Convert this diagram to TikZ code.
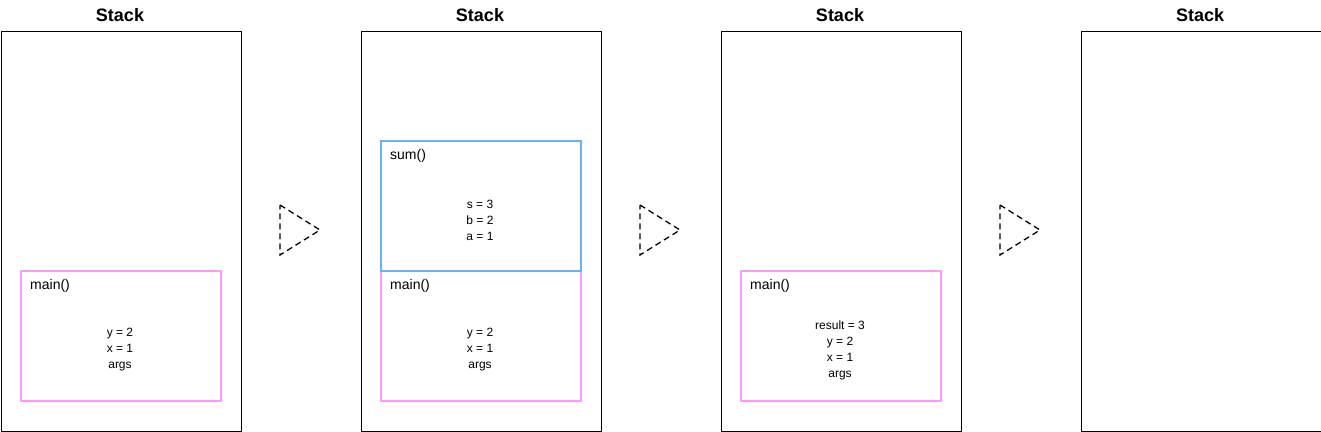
\documentclass[tikz,border=0pt]{standalone}
\usepackage{fontspec}
\setmainfont{Liberation Sans}
\definecolor{pinkframe}{HTML}{FF99FF}
\definecolor{blueframe}{HTML}{66B2FF}
\begin{document}
\begin{tikzpicture}[x=1pt,y=-1pt,
  panel/.style={draw=black,line width=0.8pt,minimum width=240pt,minimum height=400pt,inner sep=0pt,anchor=north west},
  title/.style={font=\fontsize{18}{20}\selectfont\bfseries,anchor=center,inner sep=0pt},
  frame/.style={line width=1.5pt,minimum width=200pt,minimum height=130pt,inner sep=0pt,anchor=north west},
  fname/.style={font=\fontsize{14}{16}\selectfont,anchor=west,inner sep=0pt},
  vars/.style={font=\fontsize{12}{16}\selectfont,align=center,inner sep=0pt,anchor=center},
  tri/.style={draw=black,dashed,line width=1.3pt,dash pattern=on 6pt off 4pt}]
\useasboundingbox (0,0) rectangle (1321,431);
% panels
\foreach \i/\x in {1/0,2/360,3/720,4/1080}{
  \node[panel] (p\i) at (\x+0.5,30.5) {};
  \node[title] (t\i) at (\x+120,15) {Stack};
}
% panel 1
\node[frame,draw=pinkframe] (m1) at (20,270) {};
\node[fname] (m1n) at (30,286) {main()};
\node[vars] (m1v) at (120,350) {y = 2\\x = 1\\args};
% panel 2
\node[frame,draw=pinkframe] (m2) at (380,270) {};
\node[frame,draw=blueframe] (s2) at (380,140) {};
\node[fname] (s2n) at (390,156) {sum()};
\node[vars] (s2v) at (480,220) {s = 3\\b = 2\\a = 1};
\node[fname] (m2n) at (390,286) {main()};
\node[vars] (m2v) at (480,350) {y = 2\\x = 1\\args};
% panel 3
\node[frame,draw=pinkframe] (m3) at (740,270) {};
\node[fname] (m3n) at (750,286) {main()};
\node[vars] (m3v) at (840,350) {result = 3\\y = 2\\x = 1\\args};
% triangles
\foreach \i/\x in {1/280,2/640,3/1000}{
  \coordinate (a\i) at (\x,205);
  \coordinate (b\i) at (\x+40,230);
  \coordinate (c\i) at (\x,255);
  \draw[tri] (a\i) -- (b\i) -- (c\i) -- cycle;
}
\end{tikzpicture}
\end{document}
